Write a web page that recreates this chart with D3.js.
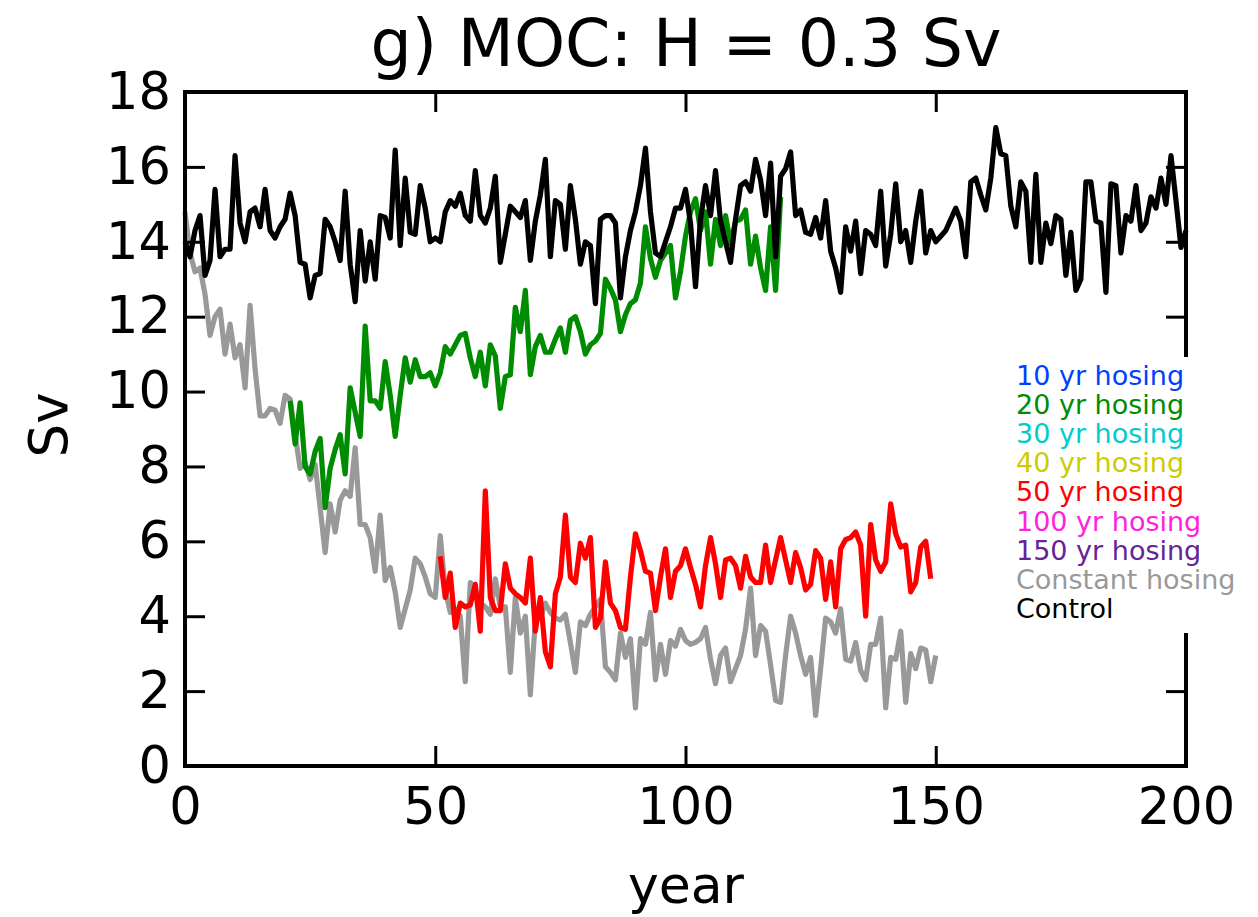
<!DOCTYPE html>
<html>
<head>
<meta charset="utf-8">
<script src="https://cdn.jsdelivr.net/npm/d3@7"></script>
<style>
  html, body { margin: 0; padding: 0; background: #fff; }
  svg text { font-family: "DejaVu Sans", sans-serif; }
</style>
</head>
<body>
<svg id="chart" width="1258" height="917"></svg>
<script>
// ---------------------------------------------------------
// MOC under H = 0.3 Sv hosing experiments (values read off the figure)
// ---------------------------------------------------------

// Control run, years 0–200
const CONTROL_START = 0;
const controlMoc = [
  14.0, 13.6, 14.3, 14.7, 13.1, 13.5, 15.4, 13.6, 13.8, 13.8,
  16.3, 14.5, 14.0, 14.8, 14.9, 14.4, 15.4, 14.3, 14.1, 14.4,
  14.6, 15.3, 14.7, 13.45, 13.4, 12.5, 13.1, 13.15, 14.6, 14.4,
  14.0, 13.5, 15.35, 13.4, 12.4, 14.3, 12.95, 14.0, 13.0, 14.7,
  14.65, 14.1, 16.45, 13.9, 15.7, 14.25, 14.2, 15.5, 14.9, 14.0,
  14.1, 14.0, 14.8, 15.1, 14.95, 15.3, 14.7, 14.55, 15.9, 14.7,
  14.5, 14.9, 15.75, 13.45, 14.2, 14.95, 14.8, 14.65, 15.1, 13.5,
  14.55, 15.25, 16.2, 13.6, 15.1, 15.0, 13.8, 15.5, 14.6, 13.4,
  14.0, 13.9, 12.35, 14.6, 14.7, 14.7, 14.5, 12.5, 13.6, 14.3,
  14.8, 15.5, 16.5, 14.8, 13.7, 13.6, 14.0, 14.4, 14.9, 14.9,
  15.4, 14.5, 12.8, 14.6, 15.5, 14.7, 15.9, 14.55, 14.0, 13.45,
  14.6, 15.5, 15.6, 15.35, 16.2, 15.65, 14.7, 16.1, 13.6, 15.75,
  15.95, 16.4, 14.7, 14.85, 14.25, 14.2, 14.65, 14.1, 15.1, 13.75,
  13.3, 12.65, 14.4, 13.75, 14.55, 13.15, 14.3, 14.2, 13.9, 15.35,
  13.35, 14.2, 15.55, 14.0, 14.3, 13.45, 14.55, 15.35, 13.7, 14.3,
  14.0, 14.15, 14.3, 14.6, 14.9, 14.55, 13.6, 15.6, 15.7, 15.25,
  14.85, 15.7, 17.05, 16.35, 16.3, 14.95, 14.4, 15.6, 15.35, 13.45,
  15.8, 13.45, 14.5, 13.95, 14.7, 14.6, 13.1, 14.25, 12.7, 13.0,
  15.6, 15.6, 14.55, 14.5, 12.65, 15.55, 15.5, 13.7, 14.7, 14.55,
  15.5, 14.3, 14.5, 15.2, 14.9, 15.7, 15.0, 16.3, 15.1, 13.85,
  14.3
];

// Constant hosing, years 0–150
const CONSTANT_START = 0;
const constantMoc = [
  14.8, 13.7, 13.2, 13.3, 12.6, 11.5, 12.0, 12.2, 11.0, 11.8,
  10.9, 11.25, 10.1, 12.3, 10.6, 9.35, 9.35, 9.55, 9.5, 9.15,
  9.9, 9.8, 8.85, 7.95, 8.1, 7.65, 8.05, 6.9, 5.7, 7.0,
  6.25, 7.1, 7.35, 7.2, 8.5, 6.45, 6.45, 6.1, 5.2, 6.7,
  4.95, 5.3, 4.65, 3.7, 4.2, 4.7, 5.55, 5.4, 5.05, 4.6,
  4.5, 6.15, 4.7, 4.1, 4.2, 4.0, 2.25, 4.9, 4.7, 4.35,
  4.25, 4.05, 5.0, 4.25, 4.25, 2.5, 4.5, 3.55, 4.0, 1.9,
  3.9, 3.95, 4.35, 4.1, 3.95, 3.9, 4.05, 3.3, 2.5, 3.85,
  3.75, 4.05, 4.25, 4.45, 2.65, 2.5, 2.3, 3.55, 2.9, 3.4,
  1.55, 3.4, 3.25, 4.1, 2.3, 3.25, 2.45, 3.35, 3.2, 3.65,
  3.35, 3.25, 3.3, 3.4, 3.7, 2.85, 2.2, 2.95, 3.15, 2.25,
  2.6, 2.95, 3.65, 4.75, 2.95, 3.75, 3.6, 2.7, 1.75, 1.7,
  2.95, 4.0, 3.55, 2.95, 2.45, 2.9, 1.35, 2.6, 3.95, 3.85,
  3.55, 4.2, 2.85, 2.8, 3.3, 2.55, 2.3, 3.25, 3.25, 3.95,
  1.55, 2.9, 2.85, 3.6, 1.7, 3.0, 2.6, 3.15, 3.1, 2.25,
  2.95
];

// 20 yr hosing, recovery from year 21
const HOSING20_START = 21;
const hosing20Moc = [
  9.75, 8.6, 9.7, 8.0, 7.8, 8.4, 8.75, 6.9, 7.95, 8.45,
  8.85, 7.8, 10.1, 9.45, 8.8, 11.75, 9.75, 9.75, 9.55, 10.8,
  9.9, 8.8, 9.9, 10.9, 10.25, 10.85, 10.4, 10.4, 10.5, 10.15,
  10.5, 11.2, 11.0, 11.25, 11.5, 11.55, 10.9, 10.4, 11.05, 10.15,
  11.25, 10.95, 9.55, 10.4, 10.45, 12.25, 11.6, 12.7, 10.45, 11.2,
  11.5, 11.05, 11.05, 11.4, 11.7, 11.05, 11.9, 12.0, 11.6, 11.0,
  11.25, 11.35, 11.55, 13.0, 12.75, 12.45, 11.6, 12.05, 12.35, 12.45,
  12.9, 14.4, 13.55, 13.05, 13.5, 13.7, 13.9, 12.5, 13.2, 14.15,
  14.8, 15.15, 14.3, 14.8, 13.4, 14.6, 13.9, 14.7, 13.95, 14.55,
  14.6, 14.85, 13.4, 14.15, 13.3, 12.7, 14.4, 12.7, 15.2
];

// 50 yr hosing, recovery from year 51
const HOSING50_START = 51;
const hosing50Moc = [
  5.6, 4.5, 5.15, 3.7, 4.35, 4.25, 4.3, 4.85, 3.6, 7.35,
  4.5, 4.15, 4.15, 5.4, 4.75, 4.6, 4.5, 4.35, 5.55, 3.6,
  4.5, 3.05, 2.65, 4.6, 5.05, 6.7, 5.05, 4.9, 5.95, 5.55,
  6.1, 3.7, 3.95, 5.45, 4.35, 4.15, 3.7, 3.65, 5.05, 6.2,
  5.75, 5.2, 5.15, 4.15, 5.05, 5.8, 4.5, 5.2, 5.35, 5.8,
  5.3, 4.85, 4.25, 5.35, 6.1, 5.4, 4.5, 5.5, 5.55, 5.35,
  4.75, 5.6, 5.05, 4.9, 4.9, 5.9, 4.9, 5.5, 6.1, 5.5,
  4.9, 5.7, 5.3, 4.7, 4.85, 5.75, 5.55, 4.45, 5.45, 4.25,
  5.8, 6.05, 6.1, 6.25, 5.9, 4.0, 6.45, 5.5, 5.2, 5.45,
  7.0, 6.2, 5.85, 5.9, 4.65, 4.9, 5.85, 6.0, 5.0
];

// Legend
const legendLabels = [
  "10 yr hosing", "20 yr hosing", "30 yr hosing", "40 yr hosing",
  "50 yr hosing", "100 yr hosing", "150 yr hosing", "Constant hosing", "Control"
];
const legendColors = [
  "#0040ff", "#008c00", "#00cccc", "#cccc00",
  "#ff0000", "#ff22dd", "#662299", "#999999", "#000000"
];

// Axis ticks
const xTicks = [0, 50, 100, 150, 200];
const yTicks = [0, 2, 4, 6, 8, 10, 12, 14, 16, 18];

// ---------------------------------------------------------
// SETUP
// ---------------------------------------------------------
const svg = d3.select("#chart");
const plot = { left: 185, right: 1186, top: 92, bottom: 766 };

const x = d3.scaleLinear().domain([0, 200]).range([plot.left, plot.right]);
const y = d3.scaleLinear().domain([0, 18]).range([plot.bottom, plot.top]);

const toPoints = (vals, start) => vals.map((v, i) => ({ year: start + i, v }));

const line = d3.line()
  .x(d => x(d.year))
  .y(d => y(d.v));

// ---------------------------------------------------------
// SERIES (gray first, control on top)
// ---------------------------------------------------------
const series = [
  { pts: toPoints(constantMoc, CONSTANT_START), color: "#999999" },
  { pts: toPoints(hosing20Moc, HOSING20_START), color: "#008c00" },
  { pts: toPoints(hosing50Moc, HOSING50_START), color: "#ff0000" },
  { pts: toPoints(controlMoc, CONTROL_START), color: "#000000" }
];

svg.append("g")
  .selectAll("path")
  .data(series)
  .enter()
  .append("path")
  .attr("d", d => line(d.pts))
  .attr("fill", "none")
  .attr("stroke", d => d.color)
  .attr("stroke-width", 5.2)
  .attr("stroke-linejoin", "round");

// ---------------------------------------------------------
// AXES (ticks point inward on all four sides)
// ---------------------------------------------------------
const TICK = 20;

function styleAxis(g, fontSize) {
  g.select(".domain").remove();
  g.selectAll(".tick line").attr("stroke", "#000").attr("stroke-width", 3);
  g.selectAll(".tick text")
    .attr("fill", "#000")
    .style("font-size", fontSize + "px")
    .style("font-family", "'DejaVu Sans', sans-serif");
}

svg.append("g")
  .attr("transform", `translate(${plot.left},0)`)
  .call(d3.axisLeft(y).tickValues(yTicks).tickSizeInner(-TICK).tickSizeOuter(0).tickPadding(14))
  .call(g => styleAxis(g, 51));

svg.append("g")
  .attr("transform", `translate(${plot.right},0)`)
  .call(d3.axisRight(y).tickValues(yTicks).tickSizeInner(-TICK).tickSizeOuter(0).tickFormat(""))
  .call(g => styleAxis(g, 10));

svg.append("g")
  .attr("transform", `translate(0,${plot.bottom})`)
  .call(d3.axisBottom(x).tickValues(xTicks).tickSizeInner(-TICK).tickSizeOuter(0).tickPadding(22))
  .call(g => styleAxis(g, 51));

svg.append("g")
  .attr("transform", `translate(0,${plot.top})`)
  .call(d3.axisTop(x).tickValues(xTicks).tickSizeInner(-TICK).tickSizeOuter(0).tickFormat(""))
  .call(g => styleAxis(g, 10));

// frame
svg.append("rect")
  .attr("x", plot.left)
  .attr("y", plot.top)
  .attr("width", plot.right - plot.left)
  .attr("height", plot.bottom - plot.top)
  .attr("fill", "none")
  .attr("stroke", "#000")
  .attr("stroke-width", 4);

// ---------------------------------------------------------
// LEGEND (text only, white box over the right spine)
// ---------------------------------------------------------
svg.append("rect")
  .attr("x", 1010)
  .attr("y", 357)
  .attr("width", 240)
  .attr("height", 276)
  .attr("fill", "#fff");

svg.append("g")
  .selectAll("text")
  .data(legendLabels)
  .enter()
  .append("text")
  .attr("x", 1016)
  .attr("y", (d, i) => 385 + i * 29.1)
  .attr("fill", (d, i) => legendColors[i])
  .style("font-size", "27px")
  .text(d => d);

// ---------------------------------------------------------
// TITLES
// ---------------------------------------------------------
svg.append("text")
  .attr("x", 686)
  .attr("y", 66)
  .attr("text-anchor", "middle")
  .style("font-size", "65px")
  .text("g) MOC: H = 0.3 Sv");

svg.append("text")
  .attr("x", 686)
  .attr("y", 903)
  .attr("text-anchor", "middle")
  .style("font-size", "52px")
  .text("year");

svg.append("text")
  .attr("transform", "translate(67,425) rotate(-90)")
  .attr("text-anchor", "middle")
  .style("font-size", "53px")
  .text("Sv");
</script>
</body>
</html>
